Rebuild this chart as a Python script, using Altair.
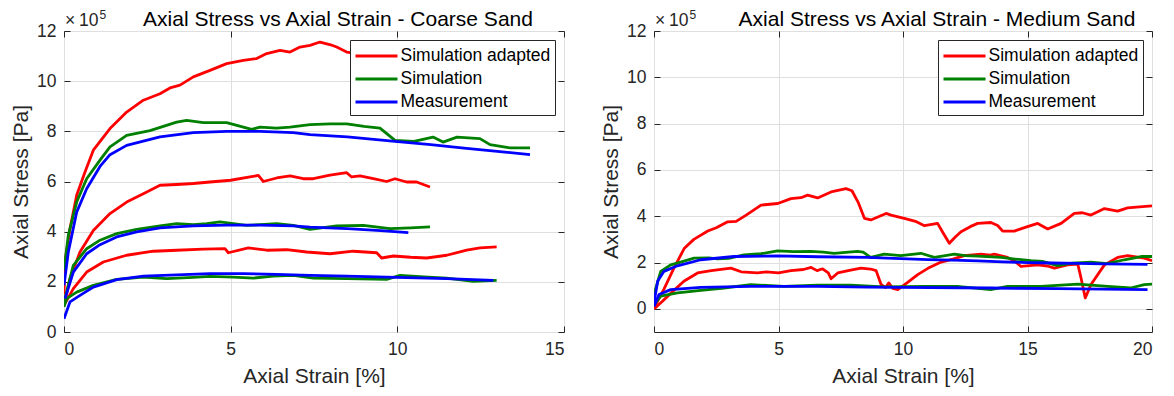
import altair as alt
import pandas as pd

FONT = "Liberation Sans"
SERIES = ["Simulation adapted", "Simulation", "Measurement"]
COLORS = ["#FF0000", "#008000", "#0000FF"]
INK = "#262626"

# ---------------- Coarse sand (stress in 1e5 Pa, strain in %) ----------------
coarse_adapted_hi_x = [0, 0.03, 0.18, 0.38, 0.63, 0.88, 1.38, 1.88, 2.38, 2.88, 3.18, 3.48, 3.88, 4.38, 4.88, 5.38, 5.78, 6.08, 6.48, 6.78, 7.08, 7.38, 7.68, 8.0, 8.18, 8.48, 8.8, 9.3, 9.8, 10.3, 10.8]
coarse_adapted_hi_y = [1.5, 2.8, 4.12, 5.45, 6.38, 7.25, 8.11, 8.77, 9.24, 9.5, 9.73, 9.84, 10.17, 10.43, 10.7, 10.83, 10.9, 11.1, 11.23, 11.16, 11.36, 11.43, 11.56, 11.45, 11.36, 11.16, 11.1, 11.0, 10.9, 10.8, 10.7]
coarse_sim_hi_x = [0, 0.13, 0.38, 0.68, 1.08, 1.38, 1.88, 2.58, 3.38, 3.68, 4.18, 4.88, 5.38, 5.63, 5.88, 6.38, 6.78, 7.38, 7.98, 8.48, 9.0, 9.48, 9.93, 10.5, 11.07, 11.37, 11.79, 12.48, 12.78, 13.38, 13.98]
coarse_sim_hi_y = [2.46, 3.86, 5.18, 6.11, 6.85, 7.38, 7.84, 8.03, 8.37, 8.44, 8.35, 8.35, 8.17, 8.08, 8.17, 8.13, 8.17, 8.27, 8.3, 8.3, 8.2, 8.13, 7.64, 7.6, 7.77, 7.57, 7.77, 7.71, 7.47, 7.34, 7.34]
coarse_meas_hi_x = [0, 0.13, 0.38, 0.68, 1.08, 1.38, 1.88, 2.88, 3.88, 4.88, 5.88, 6.88, 7.38, 8.5, 9.93, 11.0, 12.0, 13.0, 13.98]
coarse_meas_hi_y = [1.86, 3.19, 4.78, 5.71, 6.6, 7.07, 7.44, 7.78, 7.95, 8.0, 8.0, 7.95, 7.87, 7.78, 7.6, 7.47, 7.33, 7.2, 7.07]

coarse_adapted_mid_x = [0, 0.18, 0.48, 0.88, 1.38, 1.88, 2.38, 2.88, 3.38, 3.88, 4.38, 5.0, 5.58, 5.83, 5.98, 6.38, 6.78, 7.18, 7.48, 7.98, 8.48, 8.63, 8.88, 9.28, 9.68, 9.93, 10.28, 10.58, 10.98]
coarse_adapted_mid_y = [1.06, 2.12, 3.19, 4.05, 4.72, 5.18, 5.51, 5.85, 5.88, 5.92, 5.98, 6.05, 6.18, 6.24, 6.0, 6.14, 6.22, 6.11, 6.11, 6.25, 6.35, 6.18, 6.22, 6.11, 6.0, 6.11, 5.98, 5.98, 5.78]
coarse_sim_mid_x = [0, 0.28, 0.68, 1.08, 1.58, 2.18, 2.88, 3.38, 3.88, 4.28, 4.68, 5.08, 5.48, 5.88, 6.38, 6.88, 7.38, 8.18, 8.98, 9.78, 10.4, 10.98]
coarse_sim_mid_y = [1.2, 2.66, 3.32, 3.66, 3.92, 4.09, 4.23, 4.32, 4.28, 4.32, 4.39, 4.32, 4.25, 4.28, 4.32, 4.25, 4.09, 4.23, 4.25, 4.12, 4.15, 4.19]
coarse_meas_mid_x = [0.03, 0.28, 0.68, 1.08, 1.58, 2.18, 2.88, 3.88, 4.88, 5.88, 6.88, 7.38, 8.5, 9.5, 10.33]
coarse_meas_mid_y = [1.33, 2.39, 3.12, 3.48, 3.79, 3.99, 4.15, 4.23, 4.26, 4.26, 4.23, 4.18, 4.12, 4.04, 3.96]

coarse_adapted_lo_x = [0, 0.28, 0.68, 1.18, 1.88, 2.68, 3.38, 4.18, 4.83, 4.93, 5.53, 6.08, 6.68, 7.28, 7.98, 8.68, 9.38, 9.53, 9.88, 10.4, 10.88, 11.48, 12.08, 12.48, 12.98]
coarse_adapted_lo_y = [1.06, 1.73, 2.39, 2.79, 3.06, 3.22, 3.26, 3.3, 3.32, 3.16, 3.35, 3.26, 3.28, 3.19, 3.12, 3.22, 3.16, 2.95, 3.03, 2.98, 2.95, 3.06, 3.26, 3.35, 3.39]
coarse_sim_lo_x = [0, 0.08, 0.38, 0.88, 1.58, 2.38, 3.08, 3.88, 4.38, 5.08, 5.68, 6.28, 6.88, 7.48, 8.48, 9.68, 10.08, 10.8, 11.48, 12.28, 12.98]
coarse_sim_lo_y = [1.0, 1.33, 1.59, 1.86, 2.1, 2.19, 2.13, 2.18, 2.22, 2.19, 2.15, 2.23, 2.26, 2.15, 2.13, 2.1, 2.26, 2.2, 2.15, 2.02, 2.06]
coarse_meas_lo_x = [0, 0.18, 0.48, 0.88, 1.58, 2.38, 3.38, 4.38, 5.38, 6.38, 7.38, 8.48, 9.98, 11.48, 12.88]
coarse_meas_lo_y = [0.53, 1.2, 1.46, 1.79, 2.09, 2.23, 2.28, 2.33, 2.33, 2.3, 2.26, 2.23, 2.18, 2.13, 2.06]

# ---------------- Medium sand ----------------
medium_adapted_hi_x = [0, 0.4, 0.8, 1.22, 1.6, 2.16, 2.5, 2.96, 3.3, 3.7, 4.3, 4.97, 5.5, 5.9, 6.17, 6.57, 7.11, 7.71, 7.95, 8.2, 8.45, 8.71, 9.32, 9.52, 10.05, 10.5, 10.86, 11.39, 11.6, 11.86, 12.1, 12.33, 12.7, 13.0, 13.53, 13.8, 14.0, 14.47, 15.0, 15.41, 15.81, 16.35, 16.88, 17.2, 17.55, 18.09, 18.62, 19.02, 19.5, 20.0]
medium_adapted_hi_y = [0.04, 0.85, 1.76, 2.62, 3.0, 3.36, 3.5, 3.76, 3.78, 4.05, 4.48, 4.55, 4.76, 4.8, 4.91, 4.79, 5.05, 5.19, 5.1, 4.6, 3.91, 3.84, 4.12, 4.05, 3.91, 3.78, 3.59, 3.69, 3.3, 2.83, 3.1, 3.33, 3.55, 3.69, 3.73, 3.6, 3.36, 3.36, 3.55, 3.69, 3.45, 3.69, 4.12, 4.15, 4.05, 4.33, 4.22, 4.36, 4.4, 4.45]
medium_adapted_lo_x = [0, 0.34, 0.69, 1.2, 1.75, 2.3, 3.09, 3.5, 4.16, 4.5, 5.0, 5.5, 6.0, 6.31, 6.55, 6.77, 7.0, 7.11, 7.38, 7.8, 8.31, 8.7, 8.92, 9.12, 9.3, 9.43, 9.59, 9.79, 10.2, 10.59, 11.0, 11.53, 12.0, 12.46, 13.13, 13.5, 13.67, 14.2, 14.5, 14.74, 15.41, 15.8, 16.08, 16.61, 17.02, 17.15, 17.32, 17.55, 18.09, 18.62, 19.02, 19.69, 20.0]
medium_adapted_lo_y = [0.0, 0.33, 0.69, 1.19, 1.55, 1.65, 1.76, 1.6, 1.55, 1.6, 1.55, 1.65, 1.7, 1.79, 1.65, 1.73, 1.55, 1.3, 1.55, 1.65, 1.76, 1.72, 1.65, 1.05, 0.92, 1.12, 0.88, 0.83, 1.15, 1.48, 1.75, 2.02, 2.15, 2.3, 2.36, 2.32, 2.36, 2.22, 2.05, 1.83, 1.9, 1.85, 1.76, 1.9, 1.93, 1.33, 0.47, 1.05, 1.9, 2.22, 2.3, 2.19, 2.08]
medium_sim_hi_x = [0, 0.27, 0.67, 1.0, 1.61, 2.2, 2.55, 3.0, 3.61, 4.3, 4.96, 5.6, 6.29, 6.8, 7.23, 7.7, 8.17, 8.4, 8.7, 9.24, 9.91, 10.72, 11.26, 12.06, 12.5, 13.0, 13.94, 14.5, 15.14, 15.6, 16.21, 16.8, 17.55, 18.2, 18.89, 19.56, 20.0]
medium_sim_hi_y = [0.62, 1.62, 1.9, 2.0, 2.19, 2.2, 2.16, 2.18, 2.33, 2.38, 2.5, 2.47, 2.48, 2.45, 2.4, 2.44, 2.48, 2.45, 2.22, 2.36, 2.3, 2.4, 2.22, 2.36, 2.3, 2.28, 2.22, 2.15, 2.08, 2.05, 1.87, 1.97, 2.02, 1.95, 2.12, 2.26, 2.26]
medium_meas_hi_x = [0, 0.15, 0.4, 0.94, 1.88, 3.21, 4.96, 6.56, 8.57, 9.91, 11.0, 12.0, 13.0, 14.0, 15.0, 16.0, 17.0, 18.0, 19.0, 19.82]
medium_meas_hi_y = [0.26, 1.2, 1.62, 1.86, 2.12, 2.26, 2.29, 2.25, 2.22, 2.17, 2.13, 2.1, 2.07, 2.03, 2.0, 1.98, 1.96, 1.94, 1.93, 1.92]
medium_sim_lo_x = [0, 0.27, 0.94, 1.88, 2.81, 3.88, 5.22, 6.56, 7.9, 9.24, 10.86, 12.18, 13.52, 14.2, 15.54, 17.02, 17.55, 18.22, 19.14, 19.69, 20.0]
medium_sim_lo_y = [0.18, 0.55, 0.69, 0.8, 0.9, 1.05, 0.97, 1.02, 1.02, 0.95, 0.97, 0.97, 0.83, 0.97, 0.97, 1.07, 1.02, 0.97, 0.9, 1.05, 1.07]
medium_meas_lo_x = [0, 0.2, 0.67, 1.88, 3.88, 6.56, 8.57, 9.91, 13.52, 16.21, 19.82]
medium_meas_lo_y = [0.1, 0.62, 0.83, 0.93, 0.97, 0.97, 0.94, 0.93, 0.9, 0.87, 0.83]

coarse_curves = [
    ("Simulation adapted", coarse_adapted_hi_x, coarse_adapted_hi_y),
    ("Simulation adapted", coarse_adapted_mid_x, coarse_adapted_mid_y),
    ("Simulation adapted", coarse_adapted_lo_x, coarse_adapted_lo_y),
    ("Simulation", coarse_sim_hi_x, coarse_sim_hi_y),
    ("Simulation", coarse_sim_mid_x, coarse_sim_mid_y),
    ("Simulation", coarse_sim_lo_x, coarse_sim_lo_y),
    ("Measurement", coarse_meas_hi_x, coarse_meas_hi_y),
    ("Measurement", coarse_meas_mid_x, coarse_meas_mid_y),
    ("Measurement", coarse_meas_lo_x, coarse_meas_lo_y),
]
medium_curves = [
    ("Simulation adapted", medium_adapted_hi_x, medium_adapted_hi_y),
    ("Simulation adapted", medium_adapted_lo_x, medium_adapted_lo_y),
    ("Simulation", medium_sim_hi_x, medium_sim_hi_y),
    ("Simulation", medium_sim_lo_x, medium_sim_lo_y),
    ("Measurement", medium_meas_hi_x, medium_meas_hi_y),
    ("Measurement", medium_meas_lo_x, medium_meas_lo_y),
]


def to_frame(curves):
    rows = []
    for cid, (series, xs, ys) in enumerate(curves):
        for i, (x, y) in enumerate(zip(xs, ys)):
            rows.append({"strain": x, "stress": y, "series": series, "curve": cid, "idx": i})
    return pd.DataFrame(rows)


def panel(df, title, xmax, xticks, ymin, width, dx):
    xs = alt.Scale(domain=[0, xmax], nice=False, zero=False)
    ys = alt.Scale(domain=[ymin, 12], nice=False, zero=False)
    yticks = [0, 2, 4, 6, 8, 10, 12]
    base = alt.Chart(df)
    lines = base.mark_line(strokeWidth=2.8, clip=True, strokeJoin="round").encode(
        x=alt.X("strain:Q", scale=xs, axis=alt.Axis(
            orient="bottom", values=xticks, title="Axial Strain [%]", offset=-6,
            tickSize=6, domain=False, grid=True, labelPadding=8, titlePadding=8)),
        y=alt.Y("stress:Q", scale=ys, axis=alt.Axis(
            orient="left", values=yticks, title="Axial Stress [Pa]", offset=-6,
            tickSize=6, domain=False, grid=True, labelPadding=8, titlePadding=5)),
        color=alt.Color("series:N", scale=alt.Scale(domain=SERIES, range=COLORS),
                        legend=alt.Legend(title=None, orient="top-right", offset=9,
                                          symbolType="M-2,0L2,0", symbolSize=441,
                                          symbolOffset=10.5,
                                          symbolStrokeWidth=2.8, labelFontSize=17.5,
                                          labelFont=FONT, labelColor="black",
                                          strokeColor=INK, fillColor="white",
                                          padding=4, rowPadding=2, labelOffset=12)),
        detail="curve:N",
        order="idx:Q",
    )
    frame = base.mark_line(opacity=0).encode(
        x=alt.X("strain:Q", scale=xs, axis=alt.Axis(
            orient="top", values=xticks, title=None, labels=False, offset=-6,
            tickSize=6, domain=False, grid=False)),
        y=alt.Y("stress:Q", scale=ys, axis=alt.Axis(
            orient="right", values=yticks, title=None, labels=False, offset=-6,
            tickSize=6, domain=False, grid=False)),
        detail="curve:N",
    )
    one = pd.DataFrame({"k": [0]})
    title_mark = alt.Chart(one).mark_text(text=title, align="center", baseline="alphabetic",
                                          fontSize=21, font=FONT, color="black").encode(
        x=alt.value(width / 2 + dx), y=alt.value(-5.5))
    exp_times = alt.Chart(one).mark_text(text="×", align="left", baseline="alphabetic",
                                         fontSize=17.5, font=FONT, color=INK).encode(
        x=alt.value(1), y=alt.value(-5))
    exp_ten = alt.Chart(one).mark_text(text="10", align="left", baseline="alphabetic",
                                       fontSize=17.5, font=FONT, color=INK).encode(
        x=alt.value(15), y=alt.value(-5))
    exp_pow = alt.Chart(one).mark_text(text="5", align="left", baseline="alphabetic",
                                       fontSize=12, font=FONT, color=INK).encode(
        x=alt.value(35.5), y=alt.value(-12.5))
    return alt.layer(lines, frame, title_mark, exp_times, exp_ten, exp_pow).resolve_axis(
        x="independent", y="independent").properties(width=width, height=301)


left = panel(to_frame(coarse_curves), "Axial Stress vs Axial Strain - Coarse Sand", 15, [0, 5, 10, 15], 0, 500, 24)
right = panel(to_frame(medium_curves), "Axial Stress vs Axial Strain - Medium Sand", 20, [0, 5, 10, 15, 20], -1, 498, 34)

chart = alt.hconcat(left, right, spacing=35).resolve_scale(color="independent").properties(
    padding={"left": 2, "top": 0, "right": 2, "bottom": 0}
).configure_view(stroke=INK, strokeWidth=1).configure_axis(
    labelFont=FONT, labelFontSize=17.5, labelColor=INK, titleFont=FONT, titleFontSize=21,
    titleColor=INK, titleFontWeight="normal", tickColor=INK, tickWidth=1,
    gridColor="#DFDFDF", gridWidth=1
).configure_legend(strokeWidth=1)

chart.save("out.html", embed_options={"renderer": "svg", "actions": False})
